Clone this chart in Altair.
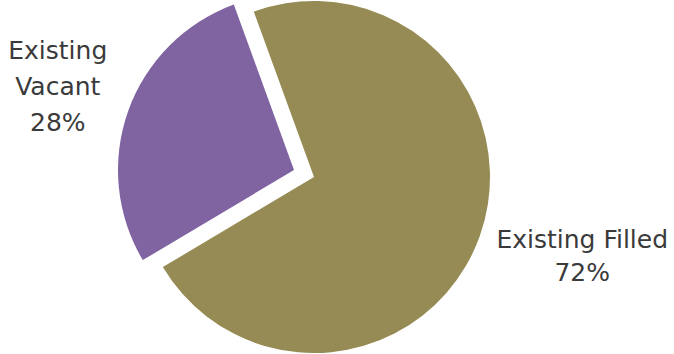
import altair as alt
import pandas as pd
import math

categories = ["Existing Filled", "Existing Vacant"]
labels = ["Existing Filled\n72%", "Existing\nVacant\n28%"]
values = [72, 28]
colors = ["#968B54", "#8064A1"]

df = pd.DataFrame({"category": categories, "value": values, "label": labels,
                   "order": [0, 1]})

start = -20.0 * math.pi / 180
theta_scale = alt.Scale(range=[start, start + 2 * math.pi])

cx, cy, r = 314, 177, 176
dx, dy = -20, -7

base = alt.Chart(df)

theta = alt.Theta("value:Q", stack=True, scale=theta_scale)
order = alt.Order("order:Q")
color = alt.Color("category:N", scale=alt.Scale(domain=categories, range=colors), legend=None)


def only(cat):
    return alt.condition(alt.datum.category == cat, alt.value(1), alt.value(0))


filled = base.mark_arc(outerRadius=r).encode(
    theta=theta, order=order, color=color, opacity=only("Existing Filled"),
    x=alt.value(cx), y=alt.value(cy),
)
vacant = base.mark_arc(outerRadius=r).encode(
    theta=theta, order=order, color=color, opacity=only("Existing Vacant"),
    x=alt.value(cx + dx), y=alt.value(cy + dy),
)

text_props = dict(radius=272, fontSize=25, font="DejaVu Sans", color="#3a3a3a",
                  lineBreak="\n", align="center", baseline="middle")

text_filled = base.mark_text(lineHeight=33, dx=12, dy=-28, **text_props).encode(
    theta=theta, order=order, text="label:N", opacity=only("Existing Filled"),
    x=alt.value(cx), y=alt.value(cy),
)
text_vacant = base.mark_text(lineHeight=36, dy=-35, **text_props).encode(
    theta=theta, order=order, text="label:N", opacity=only("Existing Vacant"),
    x=alt.value(cx), y=alt.value(cy),
)

chart = alt.layer(filled, vacant, text_filled, text_vacant).properties(
    width=674, height=354,
    autosize=alt.AutoSizeParams(type="none"), padding=0,
).configure_view(stroke=None)

chart.save("out.html", embed_options={"renderer": "svg", "actions": False})
